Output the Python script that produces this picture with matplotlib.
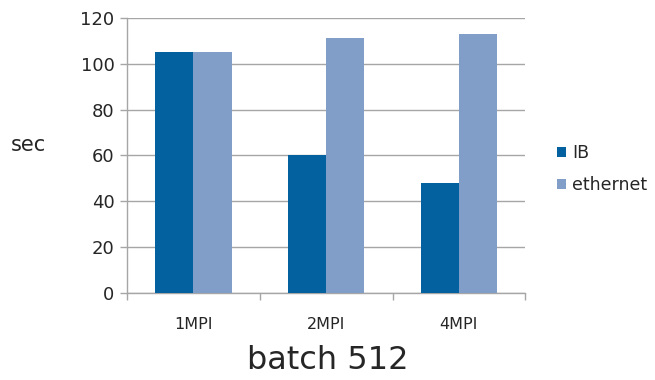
import matplotlib
matplotlib.use("Agg")
import matplotlib.pyplot as plt
import numpy as np

categories = ["1MPI", "2MPI", "4MPI"]
ib_values = [105, 60, 48]
ethernet_values = [105, 111, 113]
series_names = ["IB", "ethernet"]

ib_color = "#02619E"
eth_color = "#809EC8"
grid_color = "#A6A6A6"
text_color = "#262626"

plt.rcParams["font.family"] = ["DejaVu Sans"]

fig = plt.figure(figsize=(6.55, 3.8), dpi=100)
ax = fig.add_axes([0.194, 0.229, 0.608, 0.724])

x = np.arange(len(categories))
w = 0.288
ax.bar(x - w / 2, ib_values, width=w, color=ib_color, label=series_names[0], zorder=3)
ax.bar(x + w / 2, ethernet_values, width=w, color=eth_color, label=series_names[1], zorder=3)

ax.set_xlim(-0.5, len(categories) - 0.5)
ax.set_ylim(0, 120)
ax.set_yticks(np.arange(0, 121, 20))
ax.yaxis.grid(True, color=grid_color, linewidth=1, zorder=0)

ax.set_xticks(x)
ax.set_xticklabels(categories)
ax.set_xticks(np.arange(-0.5, len(categories), 1), minor=True)
ax.tick_params(axis="x", which="major", length=0, pad=17, labelsize=11.5, colors=text_color)
ax.tick_params(axis="x", which="minor", length=5, color=grid_color, width=1)
ax.tick_params(axis="y", length=5, color=grid_color, width=1, labelsize=13,
               colors=text_color, pad=4)

for s in ["top", "right"]:
    ax.spines[s].set_visible(False)
for s in ["left", "bottom"]:
    ax.spines[s].set_color(grid_color)
    ax.spines[s].set_linewidth(1)

fig.text(0.017, 0.618, "sec", fontsize=15, color=text_color, ha="left", va="center")
fig.text(0.5, 0.03, "batch 512", fontsize=23, color=text_color, ha="center", va="baseline")

handles, labels = ax.get_legend_handles_labels()
fig.legend(handles, labels, loc="center left", bbox_to_anchor=(0.826, 0.555),
           frameon=False, fontsize=12.5, handlelength=0.55, handleheight=0.55,
           handletextpad=0.35, labelspacing=0.8, labelcolor=text_color)

fig.savefig("out.png", dpi=100)
